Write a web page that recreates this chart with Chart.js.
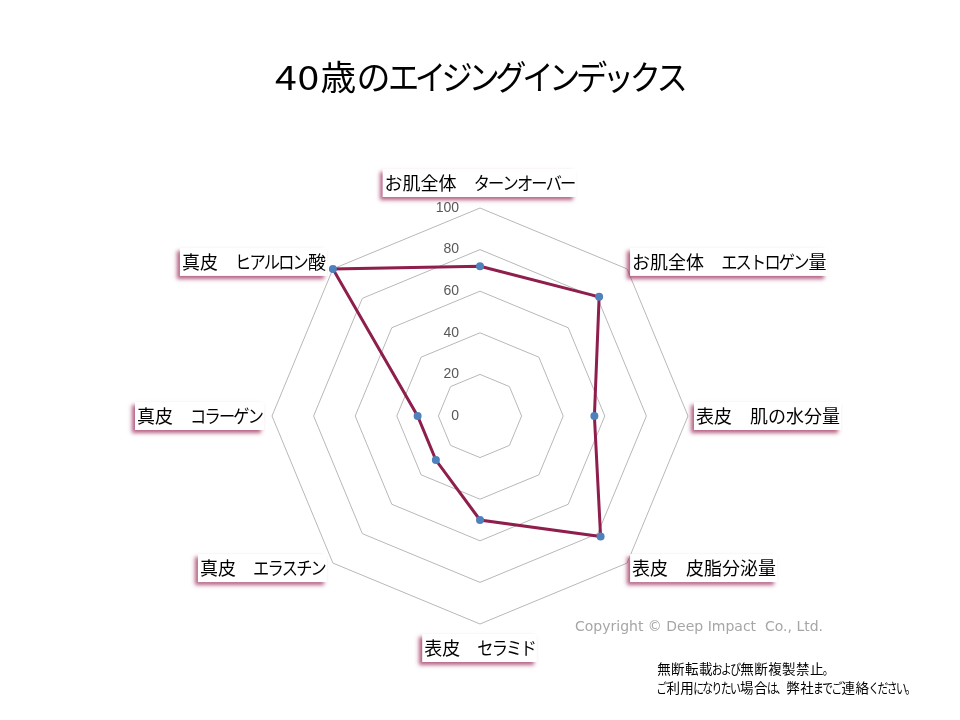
<!DOCTYPE html>
<html>
<head>
<meta charset="utf-8">
<script src="https://cdn.jsdelivr.net/npm/chart.js@4/dist/chart.umd.min.js"></script>
<style>
html,body{margin:0;padding:0;background:#fff;}
#wrap{position:relative;width:960px;height:720px;}
</style>
</head>
<body>
<div id="wrap"><canvas id="c" width="960" height="720"></canvas></div>
<script>
const titleText = '40歳のエイジングインデックス';
const categories = [
  'お肌全体　ターンオーバー',
  'お肌全体　エストロゲン量',
  '表皮　肌の水分量',
  '表皮　皮脂分泌量',
  '表皮　セラミド',
  '真皮　エラスチン',
  '真皮　コラーゲン',
  '真皮　ヒアルロン酸'
];
const values = [72, 81, 55, 82, 50, 30, 30, 100];
const tickValues = [0, 20, 40, 60, 80, 100];
const copyrightText = 'Copyright © Deep Impact  Co., Ltd.';
const noteLines = ['無断転載および無断複製禁止。', 'ご利用になりたい場合は、弊社までご連絡ください。'];

const JP = '"Noto Sans CJK JP", sans-serif';

// Per-character layout to imitate a proportional Japanese UI font
function charCat(ch) {
  if (/[\u30A0-\u30FF]/.test(ch)) return 'kata';
  if (/[\u3040-\u309F\u3001\u3002]/.test(ch)) return 'hira';
  if (/[0-9A-Za-z]/.test(ch)) return 'latin';
  return 'kanji';
}
function richLayout(ctx, text, spec) {
  ctx.font = spec.size + 'px ' + JP;
  const cells = [];
  let total = 0;
  for (const ch of text) {
    const cat = charCat(ch);
    const [s, adv] = spec[cat] || [1, 1];
    const w = ctx.measureText(ch).width;
    const cw = w * adv;
    cells.push({ ch, s, cw });
    total += cw;
  }
  return { cells, total };
}
function drawRich(ctx, text, x, y, align, spec) {
  const lay = richLayout(ctx, text, spec);
  let cx = align === 'center' ? x - lay.total / 2 : (align === 'right' ? x - lay.total : x);
  ctx.save();
  ctx.font = spec.size + 'px ' + JP;
  ctx.textAlign = 'center';
  ctx.textBaseline = 'middle';
  for (const c of lay.cells) {
    ctx.save();
    ctx.translate(cx + c.cw / 2, y);
    ctx.scale(c.s, 1);
    ctx.fillText(c.ch, 0, 0);
    ctx.restore();
    cx += c.cw;
  }
  ctx.restore();
  return lay.total;
}

const titleSpec = { size: 34, kanji: [1.05, 1.1], hira: [1, 0.97], kata: [0.92, 0.79], latin: [1.15, 1.2] };
const labelSpec = { size: 18, kanji: [1, 1], hira: [1, 1], kata: [0.9, 0.8] };
const noteSpec = { size: 13.5, kanji: [1, 1.03], hira: [0.8, 0.68] };

const textPlugin = {
  id: 'textPlugin',
  afterDraw(chart) {
    const ctx = chart.ctx;
    const scale = chart.scales.r;
    const xc = scale.xCenter, yc = scale.yCenter, R = scale.drawingArea;
    ctx.save();
    // title
    ctx.fillStyle = '#000';
    drawRich(ctx, titleText, 480, 77, 'center', titleSpec);

    // tick labels
    ctx.font = '14px "Liberation Sans", sans-serif';
    ctx.fillStyle = '#595959';
    ctx.textAlign = 'right';
    ctx.textBaseline = 'middle';
    tickValues.forEach(v => {
      const d = scale.getDistanceFromCenterForValue(v);
      ctx.fillText(String(v), xc - 21, yc - d);
    });

    // point labels with shadowed boxes
    categories.forEach((lab, i) => {
      const p = scale.getPointPosition(i, R);
      const dx = p.x - xc, dy = p.y - yc;
      const w = richLayout(ctx, lab, labelSpec).total;
      let left, ty;
      if (Math.abs(dx) < 1) {
        left = p.x - w / 2;
        ty = dy < 0 ? p.y - 25 : p.y + 24;
      } else if (Math.abs(dy) < 1) {
        left = dx > 0 ? p.x + 8 : p.x - 9 - w;
        ty = p.y;
      } else {
        left = dx > 0 ? p.x + 5 : p.x - 7 - w;
        ty = p.y + (dy < 0 ? -7 : 5);
      }
      const bx = left - 2, by = ty - 14, bw = w + 3, bh = 28;
      ctx.save();
      ctx.shadowColor = 'rgba(150,30,80,0.7)';
      ctx.shadowBlur = 4;
      ctx.shadowOffsetX = -3;
      ctx.shadowOffsetY = 3;
      ctx.fillStyle = '#ffffff';
      ctx.fillRect(bx, by, bw, bh);
      ctx.restore();
      ctx.fillStyle = '#000';
      drawRich(ctx, lab, left, ty, 'left', labelSpec);
    });

    // copyright
    ctx.font = '14px "DejaVu Sans", sans-serif';
    ctx.fillStyle = '#a6a6a6';
    ctx.textAlign = 'left';
    ctx.textBaseline = 'middle';
    ctx.fillText(copyrightText, 575, 627);

    // notes
    ctx.fillStyle = '#000';
    drawRich(ctx, noteLines[0], 657, 669, 'left', noteSpec);
    drawRich(ctx, noteLines[1], 657, 688, 'left', noteSpec);
    ctx.restore();
  }
};

new Chart(document.getElementById('c'), {
  type: 'radar',
  data: {
    labels: categories,
    datasets: [{
      data: values,
      borderColor: '#8E1F4C',
      borderWidth: 3,
      backgroundColor: 'rgba(0,0,0,0)',
      fill: false,
      pointRadius: 4,
      pointBackgroundColor: '#4F81BD',
      pointBorderColor: '#4F81BD',
      pointBorderWidth: 0,
      tension: 0
    }]
  },
  options: {
    responsive: false,
    animation: false,
    devicePixelRatio: 1,
    layout: { padding: { left: 272, right: 272, top: 208, bottom: 96 } },
    plugins: { legend: { display: false }, title: { display: false }, tooltip: { enabled: false } },
    scales: {
      r: {
        min: 0,
        max: 100,
        ticks: { stepSize: 20, display: false },
        grid: { color: '#b8b8b8', lineWidth: 1, circular: false },
        angleLines: { display: false },
        pointLabels: { display: false }
      }
    }
  },
  plugins: [textPlugin]
});
</script>
</body>
</html>
